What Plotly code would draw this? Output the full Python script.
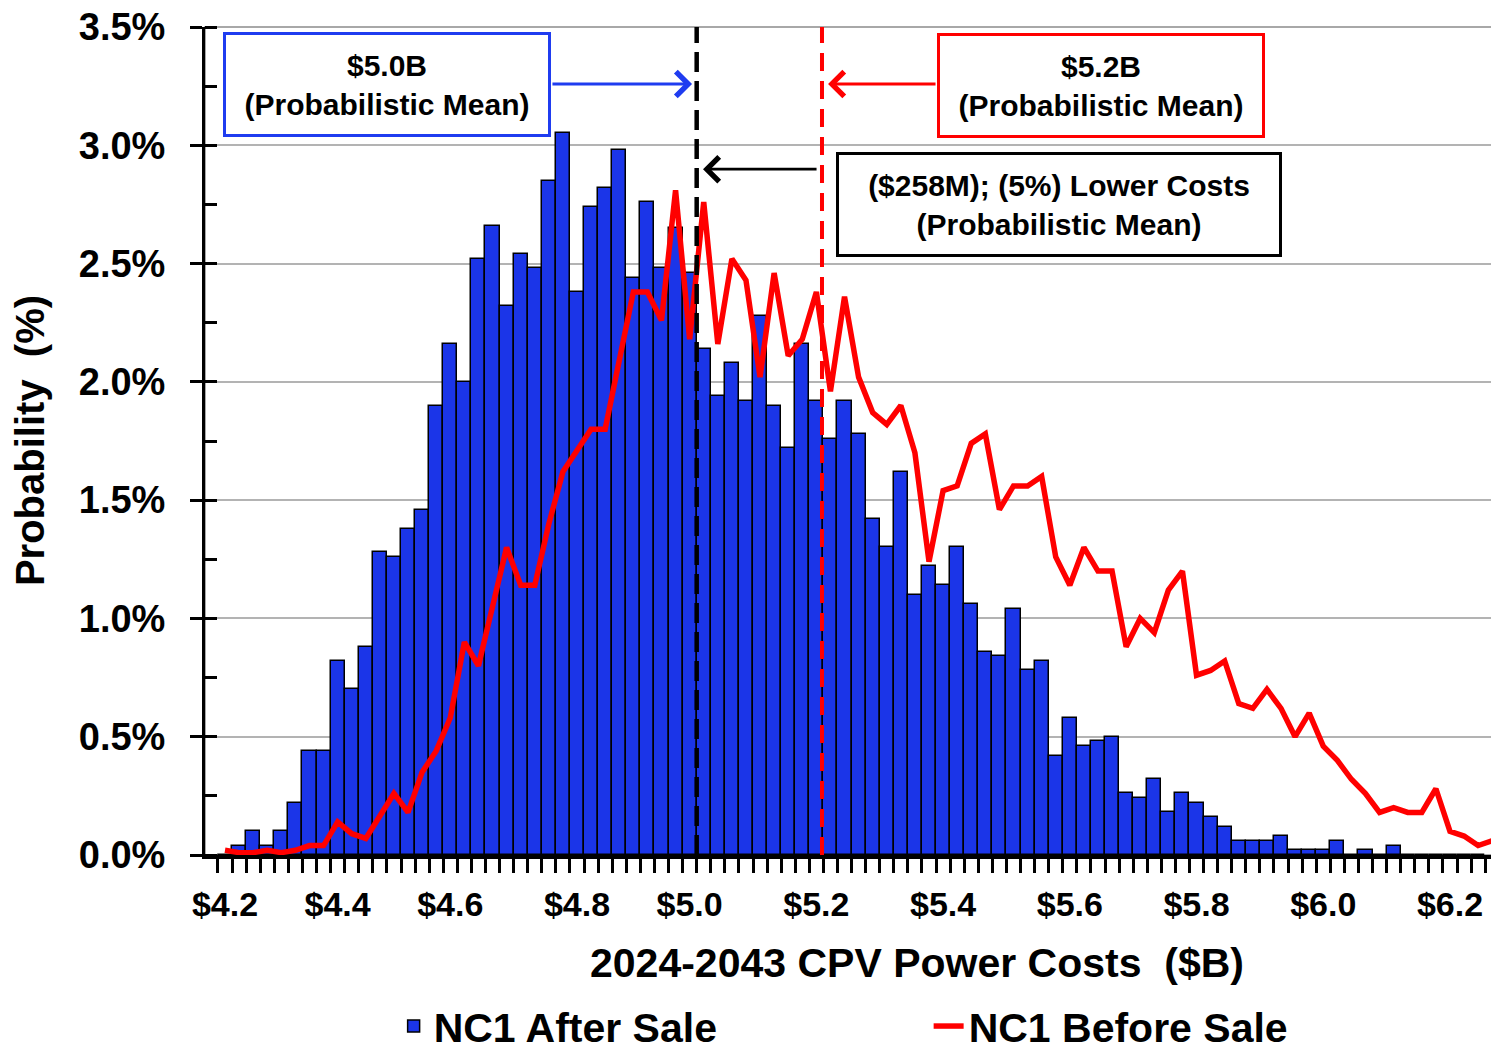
import plotly.graph_objects as go

# histogram bins (category positions) and tick labels
tick_pos = [0, 8, 16, 25, 33, 42, 51, 60, 69, 78, 87]
tick_text = ["$4.2", "$4.4", "$4.6", "$4.8", "$5.0", "$5.2", "$5.4", "$5.6", "$5.8", "$6.0", "$6.2"]
y_ticks = [0.0, 0.5, 1.0, 1.5, 2.0, 2.5, 3.0, 3.5]
y_tick_text = ["0.0%", "0.5%", "1.0%", "1.5%", "2.0%", "2.5%", "3.0%", "3.5%"]

# NC1 After Sale probability (%) per bin
after_sale = [0.00, 0.04, 0.10, 0.04, 0.10, 0.22, 0.44, 0.44, 0.82, 0.70,
              0.88, 1.28, 1.26, 1.38, 1.46, 1.90, 2.16, 2.00, 2.52, 2.66,
              2.32, 2.54, 2.48, 2.85, 3.05, 2.38, 2.74, 2.82, 2.98, 2.44,
              2.76, 2.48, 2.65, 2.46, 2.14, 1.94, 2.08, 1.92, 2.28, 1.90,
              1.72, 2.16, 1.92, 1.76, 1.92, 1.78, 1.42, 1.30, 1.62, 1.10,
              1.22, 1.14, 1.30, 1.06, 0.86, 0.84, 1.04, 0.78, 0.82, 0.42,
              0.58, 0.46, 0.48, 0.50, 0.26, 0.24, 0.32, 0.18, 0.26, 0.22,
              0.16, 0.12, 0.06, 0.06, 0.06, 0.08, 0.02, 0.02, 0.02, 0.06,
              0.00, 0.02, 0.00, 0.04, 0.00, 0.00, 0.00, 0.00, 0.00, 0.00]

# NC1 Before Sale probability (%) per bin
before_sale = [0.02, 0.01, 0.01, 0.02, 0.01, 0.02, 0.04, 0.04, 0.14, 0.09,
               0.07, 0.16, 0.26, 0.18, 0.35, 0.44, 0.58, 0.90, 0.80, 1.05,
               1.30, 1.14, 1.14, 1.40, 1.62, 1.71, 1.80, 1.80, 2.10, 2.38,
               2.38, 2.26, 2.81, 2.18, 2.76, 2.16, 2.52, 2.43, 2.02, 2.46,
               2.11, 2.18, 2.38, 1.96, 2.36, 2.02, 1.87, 1.82, 1.90, 1.70,
               1.24, 1.54, 1.56, 1.74, 1.78, 1.46, 1.56, 1.56, 1.60, 1.26,
               1.14, 1.30, 1.20, 1.20, 0.88, 1.00, 0.94, 1.12, 1.20, 0.76,
               0.78, 0.82, 0.64, 0.62, 0.70, 0.62, 0.50, 0.60, 0.46, 0.40,
               0.32, 0.26, 0.18, 0.20, 0.18, 0.18, 0.28, 0.10, 0.08, 0.04,
               0.06]

# probabilistic means, as bin positions on the axis
mean_after = 33.5   # $5.0B
mean_before = 42.4  # $5.2B

FONT = "Liberation Sans, Arial, sans-serif"
BLUE = "#1b35e8"
BOXBLUE = "#1f3cf0"
RED = "#ff0000"
XR = [-1.42, 90.34]
YR = [0, 3.5]

fig = go.Figure()
fig.add_trace(go.Bar(
    x=list(range(len(after_sale))), y=after_sale, width=1,
    name="NC1 After Sale",
    marker=dict(color=BLUE, line=dict(color="black", width=1.5)),
))
fig.add_trace(go.Scatter(
    x=list(range(len(before_sale))), y=before_sale, mode="lines",
    name="NC1 Before Sale",
    line=dict(color=RED, width=5.5),
))

# mean lines
fig.add_shape(type="line", xref="x", yref="paper", x0=mean_after, x1=mean_after,
              y0=0, y1=1, line=dict(color="black", width=4.5, dash="20px,9px"))
fig.add_shape(type="line", xref="x", yref="paper", x0=mean_before, x1=mean_before,
              y0=0, y1=1, line=dict(color=RED, width=4, dash="18px,10px"))
# plot border
fig.add_shape(type="rect", xref="paper", yref="paper", x0=0, x1=1, y0=0, y1=1,
              line=dict(color="#8c8c8c", width=1.5), layer="below")

box_font = dict(family=FONT, size=30, color="black", weight="bold")
box_common = dict(xref="paper", yref="paper", showarrow=False, font=box_font,
                  xanchor="center", yanchor="middle", borderwidth=3, borderpad=2,
                  height=95, bgcolor="white")
fig.add_annotation(x=0.1409, y=0.9306, text="$5.0B<br>(Probabilistic Mean)",
                   bordercolor=BOXBLUE, width=318, **box_common)
fig.add_annotation(x=0.6935, y=0.9293, text="$5.2B<br>(Probabilistic Mean)",
                   bordercolor=RED, width=318, **box_common)
fig.add_annotation(x=0.661, y=0.786, text="($258M); (5%) Lower Costs<br>(Probabilistic Mean)",
                   bordercolor="black", width=436, **box_common)

# arrows pointing at the mean lines
arrow_common = dict(xref="x", yref="y", axref="x", ayref="y", text="", showarrow=True,
                    arrowhead=4, arrowsize=1.7, arrowwidth=2.8)
fig.add_annotation(x=33.17, y=3.259, ax=23.15, ay=3.259, arrowcolor=BOXBLUE, **arrow_common)
fig.add_annotation(x=42.83, y=3.259, ax=50.57, ay=3.259, arrowcolor=RED, **arrow_common)
fig.add_annotation(x=33.95, y=2.899, ax=42.12, ay=2.899, arrowcolor="black", **arrow_common)

# axis titles
fig.add_annotation(xref="paper", yref="paper", x=0.551, y=-0.130,
                   xanchor="center", yanchor="middle",
                   text="2024-2043 CPV Power Costs\u00a0\u00a0($B)", showarrow=False,
                   font=dict(family=FONT, size=41, color="black", weight="bold"))
fig.add_annotation(xref="paper", yref="paper", x=-0.1354, y=0.5, textangle=-90,
                   xanchor="center", yanchor="middle",
                   text="Probability\u00a0\u00a0(%)", showarrow=False,
                   font=dict(family=FONT, size=40, color="black", weight="bold"))

# the page body adds an 8px offset, so the figure is 8px smaller than the window
fig.update_layout(
    width=1491, height=1040,
    margin=dict(l=197, r=2, t=19, b=193, autoexpand=False),
    plot_bgcolor="white", paper_bgcolor="white",
    bargap=0,
    showlegend=True,
    legend=dict(orientation="h", x=0.146, y=-0.207, xanchor="left", yanchor="middle",
                font=dict(family=FONT, size=41, color="black", weight="bold"),
                entrywidth=490, entrywidthmode="pixels", bgcolor="rgba(0,0,0,0)"),
    xaxis=dict(range=XR, tickmode="array", tickvals=tick_pos, ticktext=tick_text,
               ticks="", showgrid=False, zeroline=False,
               showline=True, linecolor="black", linewidth=4,
               tickfont=dict(family=FONT, size=34, color="black", weight="bold"),
               ticklabelstandoff=16,
               minor=dict(tickmode="linear", tick0=-0.5, dtick=1, ticks="outside",
                          ticklen=14, tickwidth=3, tickcolor="black", showgrid=False)),
    xaxis2=dict(range=XR, overlaying="x", anchor="y", side="bottom", matches="x",
                tickmode="linear", tick0=-0.5, dtick=1, ticks="inside", ticklen=12,
                tickwidth=3, tickcolor="black", showticklabels=False,
                showgrid=False, zeroline=False, showline=False),
    yaxis=dict(range=YR, tickmode="array", tickvals=y_ticks, ticktext=y_tick_text,
               ticks="outside", ticklen=12, ticklabeloverflow="allow",
               tickwidth=3, tickcolor="black", showgrid=True, gridcolor="#b3b3b3",
               gridwidth=1.5, zeroline=False, showline=True, linecolor="black",
               linewidth=3, ticklabelstandoff=17,
               tickfont=dict(family=FONT, size=38, color="black", weight="bold"),
               minor=dict(tickmode="linear", tick0=0, dtick=0.25, ticks="inside",
                          ticklen=12, tickwidth=3, tickcolor="black", showgrid=False)),
    yaxis2=dict(range=YR, overlaying="y", anchor="x", side="left", matches="y",
                tickmode="array", tickvals=y_ticks, ticks="inside", ticklen=12,
                tickwidth=3, tickcolor="black", showticklabels=False,
                showgrid=False, zeroline=False, showline=False),
)

fig.write_html("out.html")
